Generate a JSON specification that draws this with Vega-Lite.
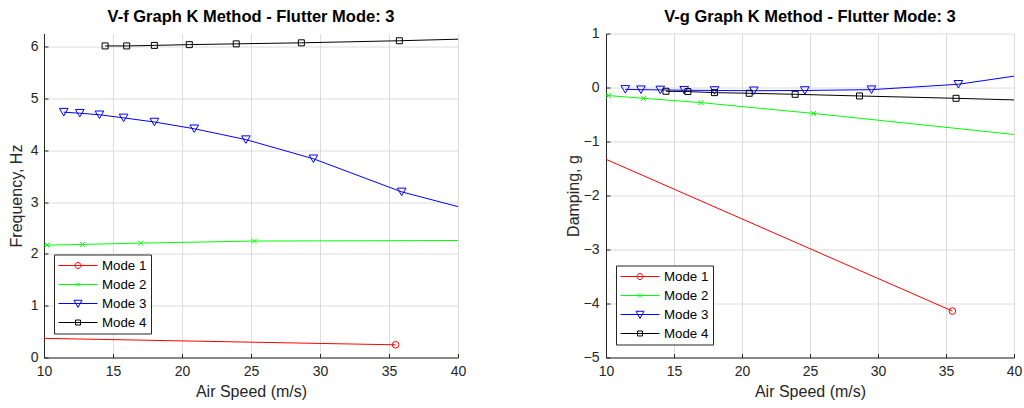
{
  "$schema": "https://vega.github.io/schema/vega-lite/v6.json",
  "padding": {"left": 8, "top": 8.5, "right": 5, "bottom": 0},
  "spacing": 99,
  "background": "white",
  "config": {
    "view": {"stroke": null},
    "font": "Liberation Sans",
    "title": {"font": "Liberation Sans", "fontSize": 16.5, "fontWeight": "bold", "color": "#000000", "frame": "group"},
    "axis": {
      "labelFont": "Liberation Sans", "titleFont": "Liberation Sans",
      "labelFontSize": 14, "titleFontSize": 16, "titleFontWeight": "normal",
      "labelColor": "#262626", "titleColor": "#262626",
      "domainColor": "#262626", "domainWidth": 1,
      "gridColor": "#dcdcdc", "gridWidth": 1,
      "ticks": true, "tickSize": -4, "tickColor": "#262626", "tickWidth": 1,
      "labelFlush": false, "labelOverlap": false
    },
    "legend": {
      "title": null, "orient": "none", "legendX": 10,
      "strokeColor": "#262626", "fillColor": "white", "padding": 4,
      "labelFont": "Liberation Sans", "labelFontSize": 13.3, "labelColor": "#000000",
      "symbolSize": 169, "symbolStrokeWidth": 1, "rowPadding": 5, "labelOffset": 30
    }
  },
  "resolve": {"scale": {"color": "independent"}, "legend": {"color": "independent"}},
  "datasets": {
    "vf": [
      {"mode": "Mode 1", "v": 10, "y": 0.37, "m": 0},
      {"mode": "Mode 1", "v": 35.48, "y": 0.245, "m": 1},
      {"mode": "Mode 2", "v": 10, "y": 2.165, "m": 0},
      {"mode": "Mode 2", "v": 10.23, "y": 2.17, "m": 1},
      {"mode": "Mode 2", "v": 12.79, "y": 2.185, "m": 1},
      {"mode": "Mode 2", "v": 17.0, "y": 2.21, "m": 1},
      {"mode": "Mode 2", "v": 25.25, "y": 2.25, "m": 1},
      {"mode": "Mode 2", "v": 40, "y": 2.26, "m": 0},
      {"mode": "Mode 3", "v": 11.43, "y": 4.74, "m": 1},
      {"mode": "Mode 3", "v": 12.59, "y": 4.72, "m": 1},
      {"mode": "Mode 3", "v": 14.02, "y": 4.69, "m": 1},
      {"mode": "Mode 3", "v": 15.77, "y": 4.63, "m": 1},
      {"mode": "Mode 3", "v": 18.0, "y": 4.55, "m": 1},
      {"mode": "Mode 3", "v": 20.89, "y": 4.42, "m": 1},
      {"mode": "Mode 3", "v": 24.63, "y": 4.21, "m": 1},
      {"mode": "Mode 3", "v": 29.52, "y": 3.84, "m": 1},
      {"mode": "Mode 3", "v": 35.92, "y": 3.2, "m": 1},
      {"mode": "Mode 3", "v": 40, "y": 2.915, "m": 0},
      {"mode": "Mode 4", "v": 14.43, "y": 6.02, "m": 1},
      {"mode": "Mode 4", "v": 15.99, "y": 6.02, "m": 1},
      {"mode": "Mode 4", "v": 18.0, "y": 6.03, "m": 1},
      {"mode": "Mode 4", "v": 20.53, "y": 6.045, "m": 1},
      {"mode": "Mode 4", "v": 23.93, "y": 6.06, "m": 1},
      {"mode": "Mode 4", "v": 28.65, "y": 6.08, "m": 1},
      {"mode": "Mode 4", "v": 35.75, "y": 6.12, "m": 1},
      {"mode": "Mode 4", "v": 40, "y": 6.15, "m": 0}
    ],
    "vg": [
      {"mode": "Mode 1", "v": 10, "y": -1.33, "m": 0},
      {"mode": "Mode 1", "v": 35.47, "y": -4.14, "m": 1},
      {"mode": "Mode 2", "v": 10, "y": -0.145, "m": 0},
      {"mode": "Mode 2", "v": 10.19, "y": -0.15, "m": 1},
      {"mode": "Mode 2", "v": 12.76, "y": -0.2, "m": 1},
      {"mode": "Mode 2", "v": 16.98, "y": -0.28, "m": 1},
      {"mode": "Mode 2", "v": 25.25, "y": -0.48, "m": 1},
      {"mode": "Mode 2", "v": 40, "y": -0.87, "m": 0},
      {"mode": "Mode 3", "v": 11.42, "y": -0.035, "m": 1},
      {"mode": "Mode 3", "v": 12.57, "y": -0.04, "m": 1},
      {"mode": "Mode 3", "v": 13.99, "y": -0.045, "m": 1},
      {"mode": "Mode 3", "v": 15.75, "y": -0.05, "m": 1},
      {"mode": "Mode 3", "v": 17.98, "y": -0.055, "m": 1},
      {"mode": "Mode 3", "v": 20.87, "y": -0.06, "m": 1},
      {"mode": "Mode 3", "v": 24.62, "y": -0.055, "m": 1},
      {"mode": "Mode 3", "v": 29.52, "y": -0.04, "m": 1},
      {"mode": "Mode 3", "v": 35.91, "y": 0.06, "m": 1},
      {"mode": "Mode 3", "v": 40, "y": 0.21, "m": 0},
      {"mode": "Mode 4", "v": 14.41, "y": -0.07, "m": 1},
      {"mode": "Mode 4", "v": 16.02, "y": -0.075, "m": 1},
      {"mode": "Mode 4", "v": 17.98, "y": -0.095, "m": 1},
      {"mode": "Mode 4", "v": 20.53, "y": -0.107, "m": 1},
      {"mode": "Mode 4", "v": 23.91, "y": -0.126, "m": 1},
      {"mode": "Mode 4", "v": 28.64, "y": -0.157, "m": 1},
      {"mode": "Mode 4", "v": 35.74, "y": -0.2, "m": 1},
      {"mode": "Mode 4", "v": 40, "y": -0.23, "m": 0}
    ]
  },
  "hconcat": [
    {
      "width": 414, "height": 324,
      "title": {"text": "V-f Graph K Method - Flutter Mode: 3", "offset": 8},
      "data": {"name": "vf"},
      "encoding": {
        "x": {"field": "v", "type": "quantitative", "title": "Air Speed (m/s)",
              "scale": {"domain": [10, 40], "nice": false, "zero": false},
              "axis": {"values": [10, 15, 20, 25, 30, 35, 40], "labelPadding": 11, "titlePadding": 5}},
        "y": {"field": "y", "type": "quantitative", "title": "Frequency, Hz",
              "scale": {"domain": [0, 6.26], "nice": false, "zero": false},
              "axis": {"values": [0, 1, 2, 3, 4, 5, 6], "labelPadding": 10, "titlePadding": 6}}
      },
      "layer": [
        {
          "mark": {"type": "line", "strokeWidth": 1, "clip": true},
          "encoding": {
            "color": {"field": "mode", "type": "nominal",
              "scale": {"domain": ["Mode 1", "Mode 2", "Mode 3", "Mode 4"], "range": ["#ff0000", "#00ff00", "#0000ff", "#000000"]},
              "legend": {"legendY": 221,
                "encode": {"symbols": {"update": {
                  "fill": {"value": "transparent"},
                  "shape": {"signal": "datum.value === 'Mode 1' ? 'M-1,0H5M2.46,0A0.46,0.46,0,1,1,1.54,0A0.46,0.46,0,1,1,2.46,0' : datum.value === 'Mode 2' ? 'M-1,0H5M1.69,-0.31L2.31,0.31M1.69,0.31L2.31,-0.31' : datum.value === 'Mode 3' ? 'M-1,0H5M1.38,-0.5L2.62,-0.5L2,0.6Z' : 'M-1,0H5M1.62,-0.38H2.38V0.38H1.62Z'"}
                }}}
              }}
          }
        },
        {
          "transform": [{"filter": "datum.m == 1 && datum.mode == 'Mode 1'"}],
          "mark": {"type": "point", "shape": "circle", "size": 44, "color": "#ff0000", "filled": false, "strokeWidth": 1, "opacity": 1}
        },
        {
          "transform": [{"filter": "datum.m == 1 && datum.mode == 'Mode 2'"}],
          "mark": {"type": "point", "shape": "M-1,-1L1,1M-1,1L1,-1", "size": 25, "color": "#00ff00", "filled": false, "strokeWidth": 1, "opacity": 1}
        },
        {
          "transform": [{"filter": "datum.m == 1 && datum.mode == 'Mode 3'"}],
          "mark": {"type": "point", "shape": "triangle-down", "size": 75, "color": "#0000ff", "filled": false, "strokeWidth": 1, "opacity": 1}
        },
        {
          "transform": [{"filter": "datum.m == 1 && datum.mode == 'Mode 4'"}],
          "mark": {"type": "point", "shape": "square", "size": 36, "color": "#000000", "filled": false, "strokeWidth": 1, "opacity": 1}
        }
      ]
    },
    {
      "width": 408, "height": 324,
      "title": {"text": "V-g Graph K Method - Flutter Mode: 3", "offset": 1},
      "data": {"name": "vg"},
      "encoding": {
        "x": {"field": "v", "type": "quantitative", "title": "Air Speed (m/s)",
              "scale": {"domain": [10, 40], "nice": false, "zero": false},
              "axis": {"values": [10, 15, 20, 25, 30, 35, 40], "labelPadding": 11, "titlePadding": 5}},
        "y": {"field": "y", "type": "quantitative", "title": "Damping, g",
              "scale": {"domain": [-5, 1], "nice": false, "zero": false},
              "axis": {"values": [-5, -4, -3, -2, -1, 0, 1], "labelPadding": 11, "titlePadding": 2}}
      },
      "layer": [
        {
          "mark": {"type": "line", "strokeWidth": 1, "clip": true},
          "encoding": {
            "color": {"field": "mode", "type": "nominal",
              "scale": {"domain": ["Mode 1", "Mode 2", "Mode 3", "Mode 4"], "range": ["#ff0000", "#00ff00", "#0000ff", "#000000"]},
              "legend": {"legendY": 232,
                "encode": {"symbols": {"update": {
                  "fill": {"value": "transparent"},
                  "shape": {"signal": "datum.value === 'Mode 1' ? 'M-1,0H5M2.46,0A0.46,0.46,0,1,1,1.54,0A0.46,0.46,0,1,1,2.46,0' : datum.value === 'Mode 2' ? 'M-1,0H5M1.69,-0.31L2.31,0.31M1.69,0.31L2.31,-0.31' : datum.value === 'Mode 3' ? 'M-1,0H5M1.38,-0.5L2.62,-0.5L2,0.6Z' : 'M-1,0H5M1.62,-0.38H2.38V0.38H1.62Z'"}
                }}}
              }}
          }
        },
        {
          "transform": [{"filter": "datum.m == 1 && datum.mode == 'Mode 1'"}],
          "mark": {"type": "point", "shape": "circle", "size": 44, "color": "#ff0000", "filled": false, "strokeWidth": 1, "opacity": 1}
        },
        {
          "transform": [{"filter": "datum.m == 1 && datum.mode == 'Mode 2'"}],
          "mark": {"type": "point", "shape": "M-1,-1L1,1M-1,1L1,-1", "size": 25, "color": "#00ff00", "filled": false, "strokeWidth": 1, "opacity": 1}
        },
        {
          "transform": [{"filter": "datum.m == 1 && datum.mode == 'Mode 3'"}],
          "mark": {"type": "point", "shape": "triangle-down", "size": 75, "color": "#0000ff", "filled": false, "strokeWidth": 1, "opacity": 1}
        },
        {
          "transform": [{"filter": "datum.m == 1 && datum.mode == 'Mode 4'"}],
          "mark": {"type": "point", "shape": "square", "size": 36, "color": "#000000", "filled": false, "strokeWidth": 1, "opacity": 1}
        }
      ]
    }
  ]
}
